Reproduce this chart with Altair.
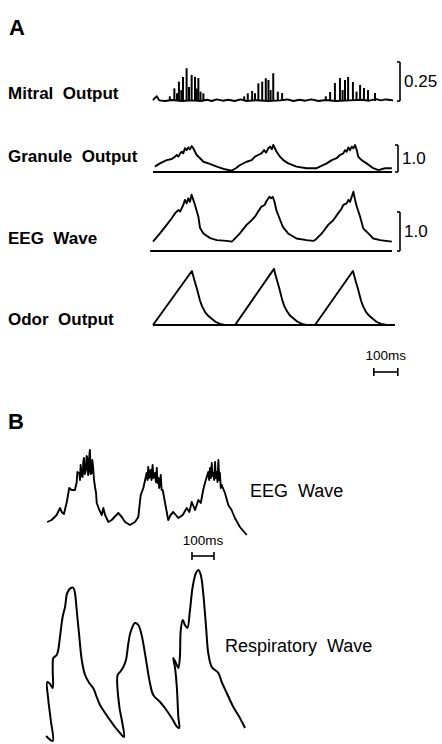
import altair as alt
import pandas as pd

W, H = 442, 744

# ---------------- Panel A data (time in ms, amplitude in trace units) ----------------
mitral_base_t = [0, 8, 16, 26, 50, 80, 120, 160, 200, 225,
                 245, 265, 290, 315, 340, 365, 390, 430, 480, 530,
                 560, 585, 610, 635, 660, 690, 720, 760, 820, 870,
                 900, 930, 950, 970, 990, 1000]
mitral_base_v = [0.006, 0.02, 0.03, 0.004, 0.0, 0.006, 0.0, 0.004, 0.0, 0.008,
                 0.0, 0.01, 0.002, 0.008, 0.0, 0.01, 0.0, 0.005, 0.0, 0.004,
                 0.01, 0.0, 0.008, 0.002, 0.01, 0.0, 0.006, 0.0, 0.004, 0.008,
                 0.002, 0.012, 0.004, 0.01, 0.006, 0.004]

mitral_spike_t = [70, 89, 100, 108, 118, 125, 140, 150, 161, 175, 182, 189, 198, 210,
                  380, 395, 413, 425, 439, 455, 470, 481, 490, 501, 520, 538,
                  720, 738, 758, 779, 790, 800, 813, 833, 848, 863, 879, 896, 925]
mitral_spike_v = [0.03, 0.081, 0.05, 0.124, 0.07, 0.154, 0.21, 0.09, 0.167, 0.156, 0.08, 0.147, 0.06, 0.049,
                  0.03, 0.049, 0.064, 0.05, 0.113, 0.124, 0.146, 0.135, 0.07, 0.178, 0.06, 0.051,
                  0.03, 0.058, 0.115, 0.147, 0.07, 0.135, 0.154, 0.122, 0.06, 0.103, 0.083, 0.07, 0.051]

gran_t = [8, 29, 57, 78, 92, 99, 106, 113, 120, 126, 133, 140, 147, 154, 161, 168, 175, 182, 196, 210, 231, 266, 300, 328,
          345, 363, 390, 411, 425, 438, 452, 463, 471, 481, 488, 495, 501, 508, 515, 529, 543, 564, 598, 640, 682,
          724, 745, 765, 779, 793, 800, 807, 814, 821, 828, 835, 842, 849, 855, 869, 890, 918, 939, 967, 995]
gran_v = [0.20, 0.32, 0.44, 0.48, 0.57, 0.63, 0.57, 0.69, 0.75, 0.69, 0.88, 0.81, 0.91, 0.84, 0.96, 0.88, 0.75, 0.63, 0.51, 0.38, 0.32, 0.20, 0.10, 0.05,
          0.14, 0.26, 0.38, 0.44, 0.57, 0.63, 0.69, 0.81, 0.72, 0.88, 0.94, 0.84, 1.0, 0.88, 0.75, 0.57, 0.44, 0.32, 0.20, 0.14, 0.14,
          0.32, 0.44, 0.51, 0.63, 0.69, 0.81, 0.75, 0.91, 0.81, 0.94, 0.88, 1.0, 0.81, 0.57, 0.44, 0.32, 0.14, 0.07, 0.14, 0.14]

eegA_t = [0, 29, 57, 78, 92, 106, 113, 126, 133, 140, 147, 154, 161, 168, 175, 189, 196, 210, 238, 266, 307, 328,
          335, 362, 390, 411, 425, 438, 452, 465, 472, 485, 492, 499, 506, 514, 527, 541, 563, 598, 640, 668,
          675, 703, 730, 751, 772, 786, 793, 807, 814, 821, 828, 835, 842, 849, 863, 876, 897, 918, 946, 995]
eegA_v = [0.24, 0.45, 0.67, 0.84, 0.97, 1.05, 1.01, 1.18, 1.31, 1.22, 1.35, 1.26, 1.44, 1.31, 1.18, 0.88, 0.59, 0.45, 0.33, 0.28, 0.26, 0.24,
          0.28, 0.45, 0.67, 0.79, 0.88, 1.01, 1.14, 1.18, 1.27, 1.39, 1.35, 1.39, 1.27, 1.05, 0.84, 0.62, 0.45, 0.32, 0.28, 0.26,
          0.28, 0.45, 0.67, 0.79, 0.97, 1.09, 1.18, 1.22, 1.31, 1.26, 1.39, 1.52, 1.31, 1.14, 0.88, 0.58, 0.45, 0.32, 0.28, 0.24]

odor_t = [0, 162, 167, 172, 177, 183, 190, 196, 205, 217, 230, 246, 260, 279, 300, 342,
          504, 509, 514, 519, 525, 532, 538, 547, 559, 572, 588, 602, 621, 640, 675,
          833, 838, 843, 848, 854, 861, 867, 876, 888, 901, 917, 931, 950, 975]
odor_v = [0, 1.0, 0.92, 0.84, 0.76, 0.67, 0.55, 0.45, 0.34, 0.24, 0.17, 0.11, 0.06, 0.02, 0, 0,
          1.04, 0.95, 0.87, 0.79, 0.70, 0.58, 0.47, 0.35, 0.25, 0.17, 0.11, 0.06, 0.02, 0, 0,
          1.0, 0.92, 0.84, 0.76, 0.67, 0.55, 0.45, 0.34, 0.24, 0.17, 0.11, 0.06, 0.02, 0]

# ---------------- Panel B data ----------------
eegB_t = [1, 21, 44, 59, 67, 77, 90, 101, 112, 127, 135, 138, 147, 150, 153, 157, 162, 165, 168, 172,
          177, 180, 183, 187, 190, 193, 195, 199, 203, 206, 210, 213, 215, 219, 223, 226, 238, 249, 256, 264,
          279, 294, 324, 340, 355, 377, 400, 415, 426, 438, 453, 457, 460, 464, 471, 475, 480, 484, 491, 495,
          499, 502, 506, 510, 517, 521, 526, 536, 551, 562, 574, 597, 617, 635, 647, 658, 673, 688, 699, 710,
          718, 726, 733, 737, 741, 745, 749, 752, 756, 760, 764, 767, 771, 775, 779, 783, 786, 790, 794, 809,
          824, 839, 854, 877, 908]
eegB_v = [0.18, 0.20, 0.25, 0.32, 0.28, 0.26, 0.38, 0.52, 0.50, 0.50, 0.58, 0.68, 0.67, 0.60, 0.75, 0.64, 0.63, 0.78, 0.82, 0.66,
          0.70, 0.84, 0.83, 0.65, 0.68, 0.86, 0.90, 0.66, 0.67, 0.80, 0.72, 0.62, 0.58, 0.52, 0.47, 0.37, 0.30, 0.25, 0.32, 0.25,
          0.18, 0.20, 0.27, 0.23, 0.18, 0.15, 0.18, 0.23, 0.45, 0.52, 0.67, 0.60, 0.73, 0.62, 0.70, 0.60, 0.75, 0.62, 0.67, 0.58,
          0.72, 0.57, 0.62, 0.52, 0.65, 0.50, 0.50, 0.38, 0.20, 0.25, 0.28, 0.22, 0.25, 0.32, 0.28, 0.38, 0.30, 0.40, 0.37, 0.50,
          0.57, 0.63, 0.68, 0.60, 0.72, 0.62, 0.77, 0.64, 0.67, 0.60, 0.78, 0.62, 0.68, 0.58, 0.80, 0.60, 0.67, 0.52, 0.55, 0.47,
          0.35, 0.30, 0.22, 0.13, 0.05]

resp_t = [-4, 26, 17, 6, 1, 14, 26, 26, 29, 44,
          51, 59, 71, 82, 92, 108, 120, 127, 135, 147,
          158, 173, 192, 210, 226, 241, 264, 286, 309, 332,
          350, 340, 329, 321, 332, 347, 359, 370, 380, 400,
          415, 430, 445, 468, 483, 514, 536, 567, 592, 601,
          597, 590, 582, 574, 586, 597, 604, 608, 617, 627,
          638, 650, 662, 677, 688, 699, 710, 723, 733, 749,
          779, 794, 817, 847, 877, 900]
resp_v = [0.09, 0.04, 0.25, 0.45, 0.63, 0.61, 0.57, 0.75, 0.87, 0.90,
          0.95, 1.08, 1.28, 1.38, 1.52, 1.57, 1.57, 1.52, 1.35, 1.08,
          0.85, 0.70, 0.62, 0.57, 0.48, 0.40, 0.32, 0.25, 0.18, 0.12,
          0.08, 0.25, 0.38, 0.70, 0.73, 0.78, 0.85, 1.02, 1.13, 1.22,
          1.20, 1.10, 0.92, 0.62, 0.50, 0.43, 0.37, 0.27, 0.18, 0.17,
          0.28, 0.58, 0.77, 0.87, 0.82, 0.77, 0.88, 1.15, 1.25, 1.20,
          1.17, 1.35, 1.58, 1.72, 1.75, 1.70, 1.52, 1.18, 0.92, 0.78,
          0.72, 0.63, 0.52, 0.38, 0.27, 0.17]

# text
panel_letters = ["A", "B"]
a_labels = ["Mitral\u00a0 Output", "Granule\u00a0 Output", "EEG\u00a0 Wave", "Odor\u00a0 Output"]
b_labels = ["EEG\u00a0 Wave", "Respiratory\u00a0 Wave"]
amp_bar_traces = ["mitral", "granule", "eegA"]
amp_bar_values = [0.25, 1.0, 1.0]
amp_bar_labels = ["0.25", "1.0", "1.0"]
time_bar_ms = 100
time_bar_label = "100ms"

# ---------------- layout (figure placement, px) ----------------
LAYOUT = {
    "mitral":  dict(x0=153, xs=0.24, y0=101, ys=156),
    "granule": dict(x0=153, xs=0.24, y0=172, ys=27),
    "eegA":    dict(x0=153, xs=0.24, y0=251, ys=39),
    "odor":    dict(x0=153, xs=0.24, y0=325, ys=54),
    "eegB":    dict(x0=47,  xs=0.22, y0=540, ys=100),
    "resp":    dict(x0=47,  xs=0.22, y0=745, ys=100),
}
BASELINE_SPAN = {"granule": (0, 996), "eegA": (-12, 996), "odor": (0, 1008)}
BRACKET_X = {"mitral": 400, "granule": 398, "eegA": 400}
TIME_BARS = [("odor", 920, 372, 356), ("eegB", 659, 556, 541)]  # trace, start ms, bar y, label y
A_LABEL_POS = [(8, 94), (8, 157), (8, 239), (8, 320)]
B_LABEL_POS = [(250, 492), (225, 647)]
LETTER_POS = [(9, 28), (8, 422)]
SMOOTH = {"resp": "catmull-rom"}


def px(key, t):
    return LAYOUT[key]["x0"] + t * LAYOUT[key]["xs"]


def py(key, v):
    return LAYOUT[key]["y0"] - v * LAYOUT[key]["ys"]


traces = {
    "mitral": (mitral_base_t, mitral_base_v),
    "granule": (gran_t, gran_v),
    "eegA": (eegA_t, eegA_v),
    "odor": (odor_t, odor_v),
    "eegB": (eegB_t, eegB_v),
    "resp": (resp_t, resp_v),
}
rows = []
for key, (ts, vs) in traces.items():
    assert len(ts) == len(vs), key
    for i, (t, v) in enumerate(zip(ts, vs)):
        rows.append({"trace": key, "i": i, "x": px(key, t), "y": py(key, v)})
lines_df = pd.DataFrame(rows)

# rules: spikes, baselines, brackets, time bars
rule_rows = []
assert len(mitral_spike_t) == len(mitral_spike_v)
for t, v in zip(mitral_spike_t, mitral_spike_v):
    rule_rows.append({"kind": "spike", "x": px("mitral", t), "x2": px("mitral", t),
                      "y": py("mitral", 0), "y2": py("mitral", v)})
for key, (t0, t1) in BASELINE_SPAN.items():
    rule_rows.append({"kind": "base", "x": px(key, t0), "x2": px(key, t1),
                      "y": py(key, 0), "y2": py(key, 0)})
text_rows = []
for key, val, lab in zip(amp_bar_traces, amp_bar_values, amp_bar_labels):
    bx = BRACKET_X[key]
    ytop, ybot = py(key, val), py(key, 0)
    rule_rows.append({"kind": "bar", "x": bx, "x2": bx, "y": ytop, "y2": ybot})
    rule_rows.append({"kind": "bar", "x": bx - 3, "x2": bx, "y": ytop, "y2": ytop})
    rule_rows.append({"kind": "bar", "x": bx - 3, "x2": bx, "y": ybot, "y2": ybot})
    text_rows.append({"g": "amp", "text": lab, "x": bx + 4, "y": (ytop + ybot) / 2})
for key, t0, by, ly in TIME_BARS:
    xa, xb = px(key, t0), px(key, t0 + time_bar_ms)
    rule_rows.append({"kind": "bar", "x": xa, "x2": xb, "y": by, "y2": by})
    rule_rows.append({"kind": "bar", "x": xa, "x2": xa, "y": by - 4, "y2": by + 4})
    rule_rows.append({"kind": "bar", "x": xb, "x2": xb, "y": by - 4, "y2": by + 4})
    text_rows.append({"g": "time", "text": time_bar_label, "x": (xa + xb) / 2, "y": ly})
rules_df = pd.DataFrame(rule_rows)

for lab, (x, y) in zip(a_labels, A_LABEL_POS):
    text_rows.append({"g": "a", "text": lab, "x": x, "y": y})
for lab, (x, y) in zip(b_labels, B_LABEL_POS):
    text_rows.append({"g": "b", "text": lab, "x": x, "y": y})
for lab, (x, y) in zip(panel_letters, LETTER_POS):
    text_rows.append({"g": "letter", "text": lab, "x": x, "y": y})
text_df = pd.DataFrame(text_rows)

X = alt.X("x:Q", scale=alt.Scale(domain=[0, W], nice=False, zero=False), axis=None)
Y = alt.Y("y:Q", scale=alt.Scale(domain=[H, 0], nice=False, zero=False), axis=None)
FONT = "Liberation Sans"

raw_keys = [k for k in traces if k not in SMOOTH]
line_layers = [
    alt.Chart(lines_df).transform_filter(
        alt.FieldOneOfPredicate(field="trace", oneOf=raw_keys)).mark_line(
        color="black", strokeWidth=1.9, strokeJoin="round").encode(
        x=X, y=Y, detail="trace:N", order="i:Q")
]
for key, interp in SMOOTH.items():
    line_layers.append(
        alt.Chart(lines_df).transform_filter(alt.datum.trace == key).mark_line(
            color="black", strokeWidth=2, strokeJoin="round", interpolate=interp).encode(
            x=X, y=Y, order="i:Q"))

spikes = alt.Chart(rules_df).transform_filter(alt.datum.kind == "spike").mark_rule(
    color="black", strokeWidth=2).encode(x=X, y=Y, x2="x2:Q", y2="y2:Q")
bases = alt.Chart(rules_df).transform_filter(alt.datum.kind == "base").mark_rule(
    color="black", strokeWidth=2).encode(x=X, y=Y, x2="x2:Q", y2="y2:Q")
bars = alt.Chart(rules_df).transform_filter(alt.datum.kind == "bar").mark_rule(
    color="black", strokeWidth=1.6).encode(x=X, y=Y, x2="x2:Q", y2="y2:Q")


def text_layer(group, **kw):
    return alt.Chart(text_df).transform_filter(alt.datum.g == group).mark_text(
        font=FONT, color="black", baseline="middle", **kw).encode(x=X, y=Y, text="text:N")


texts = [
    text_layer("a", align="left", fontSize=17, fontWeight="bold"),
    text_layer("b", align="left", fontSize=18),
    text_layer("letter", align="left", fontSize=22, fontWeight="bold"),
    text_layer("amp", align="left", fontSize=17),
    text_layer("time", align="center", fontSize=13.5),
]

chart = alt.layer(*line_layers, spikes, bases, bars, *texts).properties(
    width=W, height=H, autosize=alt.AutoSizeParams(type="none"), padding=0,
    background="white").configure_view(stroke=None)

chart.save("out.html", embed_options={"renderer": "svg", "actions": False})
